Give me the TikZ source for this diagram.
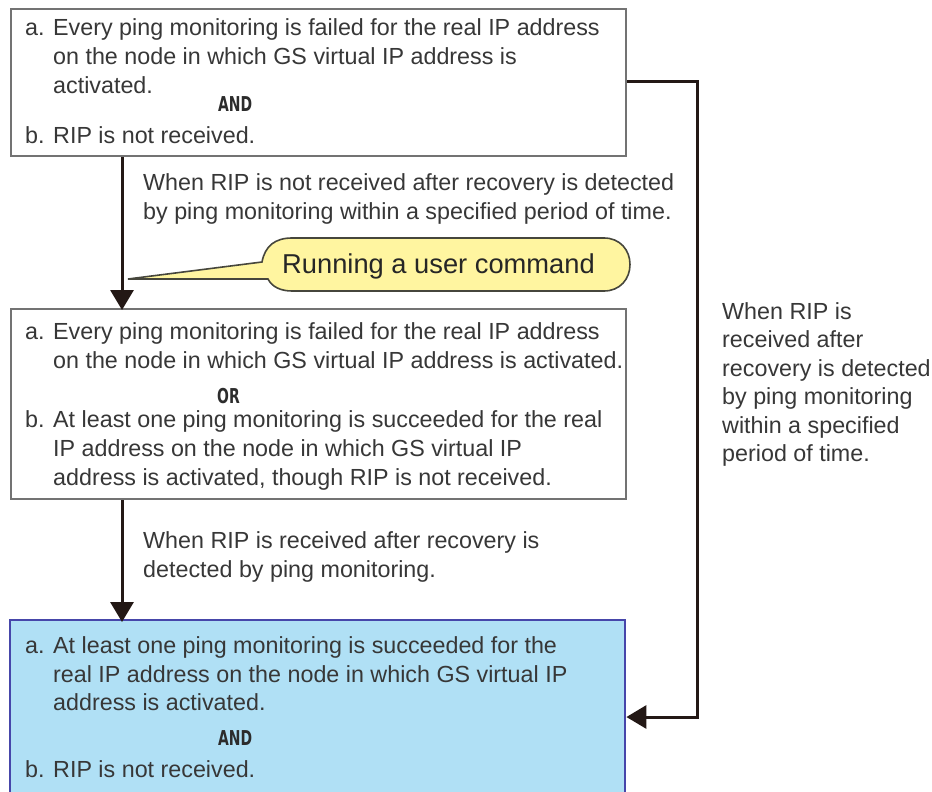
\documentclass[tikz,border=0pt]{standalone}
\usepackage{fontspec}
\setmainfont{Liberation Sans}
\newfontfamily\condfont{DejaVu Sans}
\usetikzlibrary{arrows.meta}
\definecolor{txtc}{RGB}{55,55,55}
\definecolor{boxline}{RGB}{115,115,115}
\definecolor{arrc}{RGB}{35,24,21}
\definecolor{bluefill}{RGB}{176,224,245}
\definecolor{blueline}{RGB}{70,70,170}
\definecolor{callfill}{RGB}{255,245,160}
\definecolor{callline}{RGB}{70,70,60}
\newcommand\condtext[1]{\scalebox{0.68}[1]{#1}}
\tikzset{
  txt/.style={anchor=base west, inner sep=0pt, text=txtc, font=\fontsize{23.3}{28}\selectfont},
  cond/.style={anchor=base west, inner sep=0pt, text=txtc!80!black, font=\condfont\bfseries\fontsize{20.5}{22}\selectfont},
  box/.style={draw=boxline, line width=2pt, fill=white, inner sep=0pt, anchor=north west, minimum width=615pt},
  flow/.style={draw=arrc, line width=3pt, -{Triangle[length=20pt,width=23pt]}},
  callout/.style={draw=callline, line width=1.6pt, fill=callfill},
}
\begin{document}
\begin{tikzpicture}[x=1pt,y=-1pt]
\useasboundingbox (0,0) rectangle (932,792);
% boxes
\node[box, minimum height=147pt] (b1) at (10,8) {};
\node[box, minimum height=190pt] (b2) at (10,308) {};
\node[inner sep=0pt, anchor=north west, fill=bluefill, minimum width=615pt, minimum height=172pt] (b3) at (10,620) {};
\draw[blueline, line width=2pt] (b3.south west) -- (b3.north west) -- (b3.north east) -- (b3.south east);
% box 1 text
\node[txt] (b1a) at (25,36) {a.};
\node[txt] (b1l1) at (53,36) {Every ping monitoring is failed for the real IP address};
\node[txt] (b1l2) at (53,64.5) {on the node in which GS virtual IP address is};
\node[txt] (b1l3) at (53,93) {activated.};
\node[cond] (b1and) at (218,111) {\condtext{AND}};
\node[txt] (b1b) at (25,143) {b.};
\node[txt] (b1l4) at (53,143) {RIP is not received.};
% label 1
\node[txt] (lab1a) at (143,190) {When RIP is not received after recovery is detected};
\node[txt] (lab1b) at (143,219) {by ping monitoring within a specified period of time.};
% box 2 text
\node[txt] (b2a) at (25,339) {a.};
\node[txt] (b2l1) at (53,339) {Every ping monitoring is failed for the real IP address};
\node[txt] (b2l2) at (53,368.5) {on the node in which GS virtual IP address is activated.};
\node[cond] (b2or) at (217,403) {\condtext{OR}};
\node[txt] (b2b) at (25,427) {b.};
\node[txt] (b2l3) at (53,427) {At least one ping monitoring is succeeded for the real};
\node[txt] (b2l4) at (53,456) {IP address on the node in which GS virtual IP};
\node[txt] (b2l5) at (53,485) {address is activated, though RIP is not received.};
% label 2
\node[txt] (lab2a) at (143,548) {When RIP is received after recovery is};
\node[txt] (lab2b) at (143,577) {detected by ping monitoring.};
% box 3 text
\node[txt] (b3a) at (25,653) {a.};
\node[txt] (b3l1) at (53,653) {At least one ping monitoring is succeeded for the};
\node[txt] (b3l2) at (53,682) {real IP address on the node in which GS virtual IP};
\node[txt] (b3l3) at (53,710) {address is activated.};
\node[cond] (b3and) at (218,745) {\condtext{AND}};
\node[txt] (b3b) at (25,777) {b.};
\node[txt] (b3l4) at (53,777) {RIP is not received.};
% right label
\node[txt] (r1) at (722,319) {When RIP is};
\node[txt] (r2) at (722,347.5) {received after};
\node[txt] (r3) at (722,376) {recovery is detected};
\node[txt] (r4) at (722,404.5) {by ping monitoring};
\node[txt] (r5) at (722,433) {within a specified};
\node[txt] (r6) at (722,461.5) {period of time.};
% connectors
\draw[flow] ([xshift=112pt]b1.south west) -- ([xshift=112pt,yshift=-2pt]b2.north west);
\draw[flow] ([xshift=112pt]b2.south west) -- ([xshift=112pt,yshift=-2pt]b3.north west);
\draw[flow] ([yshift=-74pt]b1.north east) -- ++(70,0) |- ([yshift=-97pt,xshift=1pt]b3.north east);
% callout
\draw[callout] (128,279) -- (262,262) .. controls (265,246) and (275,238) .. (292,238) -- (604,238)
  .. controls (620,238) and (630,250) .. (630,264.5) .. controls (630,279) and (620,291) .. (604,291)
  -- (292,291) .. controls (281,291) and (272,287) .. (268,279) -- cycle;
\node[anchor=base west, inner sep=0pt, text=black!85, font=\fontsize{27.3}{30}\selectfont] (cmd) at (282,273) {Running a user command};
\end{tikzpicture}
\end{document}
